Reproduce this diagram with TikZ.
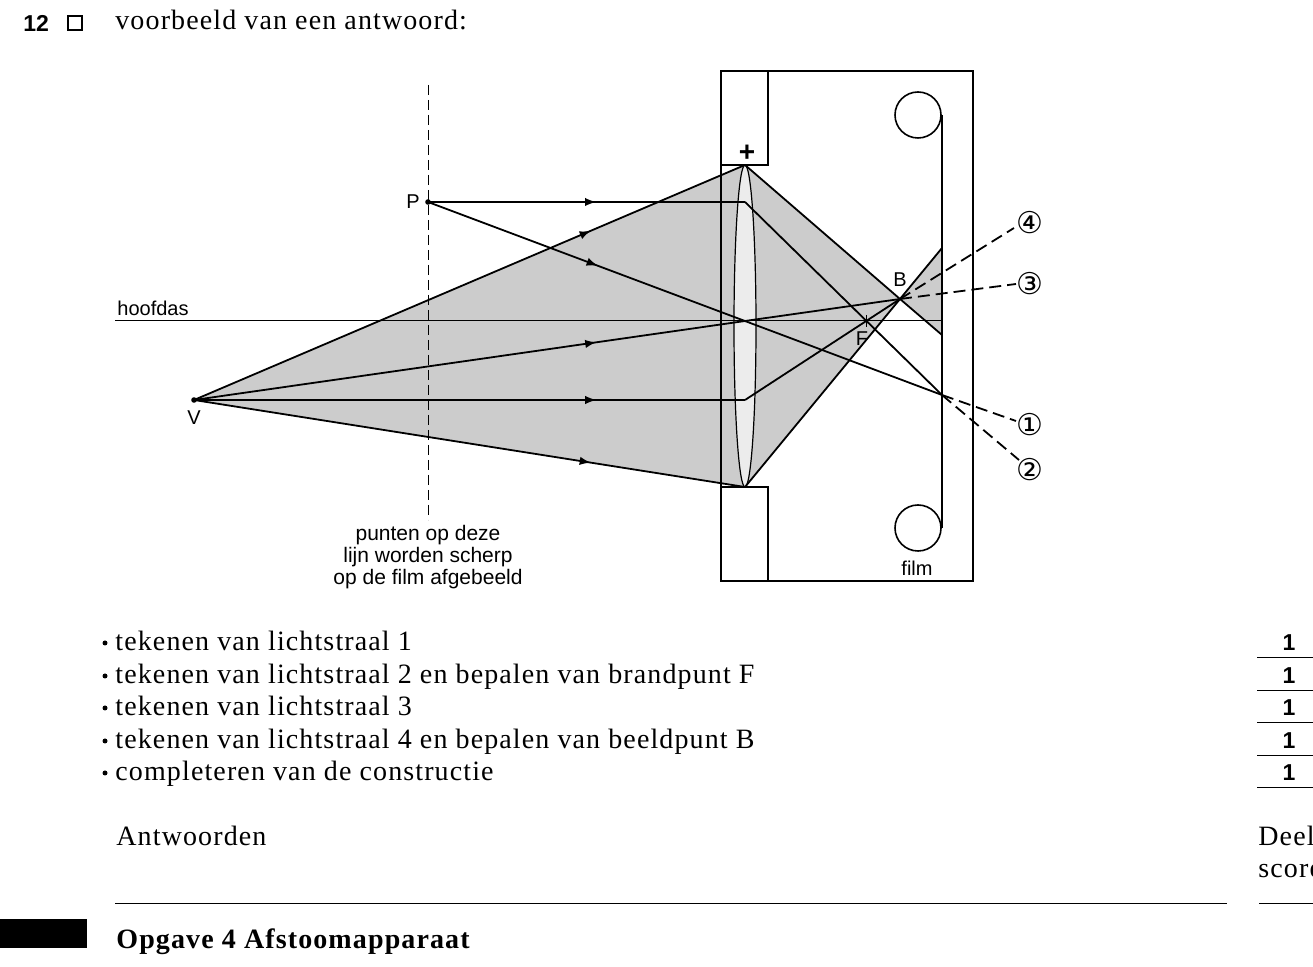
\documentclass[tikz,border=0pt]{standalone}
\usepackage{fontspec}
\setmainfont{Liberation Serif}[LetterSpace=4]
\setsansfont{Liberation Sans}
\newfontfamily\djv{DejaVu Sans}
\usetikzlibrary{decorations.markings}
\begin{document}
\begin{tikzpicture}[x=0.5pt,y=-0.5pt,
 ray/.style={line width=0.9pt},
 arr/.style={postaction={decorate},decoration={markings,mark=at position #1 with {\arrow{latex}}}},
 dsh/.style={line width=0.9pt,dash pattern=on 6pt off 3pt},
 lab/.style={font=\sffamily\fontsize{10}{12}\selectfont,inner sep=0pt},
 txt/.style={font=\fontsize{14}{15}\selectfont,anchor=base west,inner sep=0pt},
 num/.style={font=\djv\fontsize{15}{15}\selectfont,inner sep=0pt},
 sc/.style={font=\sffamily\bfseries\fontsize{11.5}{12}\selectfont,inner sep=0pt}]
\useasboundingbox (0,0) rectangle (1313,967);
\clip (0,0) rectangle (1313,967);
% coordinates
\coordinate (V) at (194,400); \coordinate (P) at (428,202);
\coordinate (LT) at (745,165); \coordinate (LB) at (745,487);
\coordinate (LC) at (745,321); \coordinate (LP) at (745,202); \coordinate (LV) at (745,400);
\coordinate (B) at (900,299); \coordinate (F) at (866,321);
\coordinate (I) at (942,395);
\coordinate (FT) at (942,248); \coordinate (FB) at (942,335);
% shading
\fill[gray!40] (V) -- (LT) -- (B) -- (LB) -- cycle;
\fill[gray!40] (B) -- (FT) -- (FB) -- cycle;
% camera
\draw[line width=0.8pt] (721,71) rectangle (973,581);
\draw[line width=0.8pt,fill=white] (721,71) rectangle (768,165);
\draw[line width=0.8pt,fill=white] (721,487) rectangle (768,581);
\draw[line width=0.8pt] (918,115) circle (23);
\draw[line width=0.8pt] (918,528) circle (23);
\draw[line width=0.9pt] (942,115) -- (942,528);
% lens
\draw[fill=gray!15,line width=0.6pt] (745,326) ellipse (11 and 161);
% axis and dashed line
\draw[line width=0.5pt] (115,321) -- (942,321);
\draw[line width=0.5pt,dash pattern=on 5pt off 2.5pt] (428,85) -- (428,520);
% cone edges
\draw[ray,arr=0.72] (V) -- (LT);
\draw[ray,arr=0.72] (V) -- (LB);
\draw[ray] (LT) -- (B) -- (FB);
\draw[ray] (LB) -- (B) -- (FT);
% rays from P
\draw[ray,arr=0.53] (P) -- (LP);
\draw[ray] (LP) -- (I);
\draw[ray,arr=0.33] (P) -- (I);
% rays from V
\draw[ray,arr=0.73] (V) -- (LC);
\draw[ray] (LC) -- (B);
\draw[ray,arr=0.73] (V) -- (LV);
\draw[ray] (LV) -- (B);
% circled labels
\node[num] (n4) at (1030,223) {④};
\node[num] (n3) at (1030,284) {③};
\node[num] (n1) at (1030,425) {①};
\node[num] (n2) at (1030,470) {②};
\draw[dsh] (B) -- (1014,228);
\draw[dsh] (B) -- (1016,284);
\draw[dsh] (I) -- (1016,421);
\draw[dsh] (I) -- (1019,460);
\fill (P) circle (2.8); \fill (V) circle (2.8);
\draw[line width=0.5pt] (866,315) -- (866,327);
% labels
\node[lab] at (413,202) {P};
\node[lab] at (900,280) {B};
\node[lab] at (862,339) {F};
\node[lab] at (194,418) {V};
\node[lab,anchor=west] at (117,308) {hoofdas};
\node[lab] at (917,568) {film};
\node[font=\sffamily\bfseries\fontsize{14}{14}\selectfont,inner sep=0pt] at (747,153) {+};
\node[lab,align=center,font=\sffamily\fontsize{10.5}{11.2}\selectfont] at (428,557) {punten op deze\\lijn worden scherp\\op de film afgebeeld};
% header
\node[sc,anchor=west] at (23,23) {12};
\draw[line width=1pt] (68,16) rectangle (82,30);
\node[txt] at (115,30) {voorbeeld van een antwoord:};
% bullets
\foreach \y/\t in {643/tekenen van lichtstraal 1,676/tekenen van lichtstraal 2 en bepalen van brandpunt F,708/tekenen van lichtstraal 3,741/tekenen van lichtstraal 4 en bepalen van beeldpunt B,773/completeren van de constructie}{
 \fill (105,\y) circle (2.5);
 \node[txt] at (115,\y+8) {\t};
 \node[sc] at (1289,\y) {1};
 \draw[line width=0.5pt] (1257,\y+15) -- (1313,\y+15);
}
\node[txt] at (116,846) {Antwoorden};
\node[txt,anchor=north west,align=left,font=\fontsize{14}{16}\selectfont] at (1258,826) {Deel\\score};
\draw[line width=0.5pt] (115,904) -- (1227,904);
\draw[line width=0.5pt] (1259,904) -- (1313,904);
\fill (0,919) rectangle (87,948);
\node[txt,font=\bfseries\fontsize{14}{15}\selectfont] at (116,949) {Opgave 4 Afstoomapparaat};
\end{tikzpicture}
\end{document}
